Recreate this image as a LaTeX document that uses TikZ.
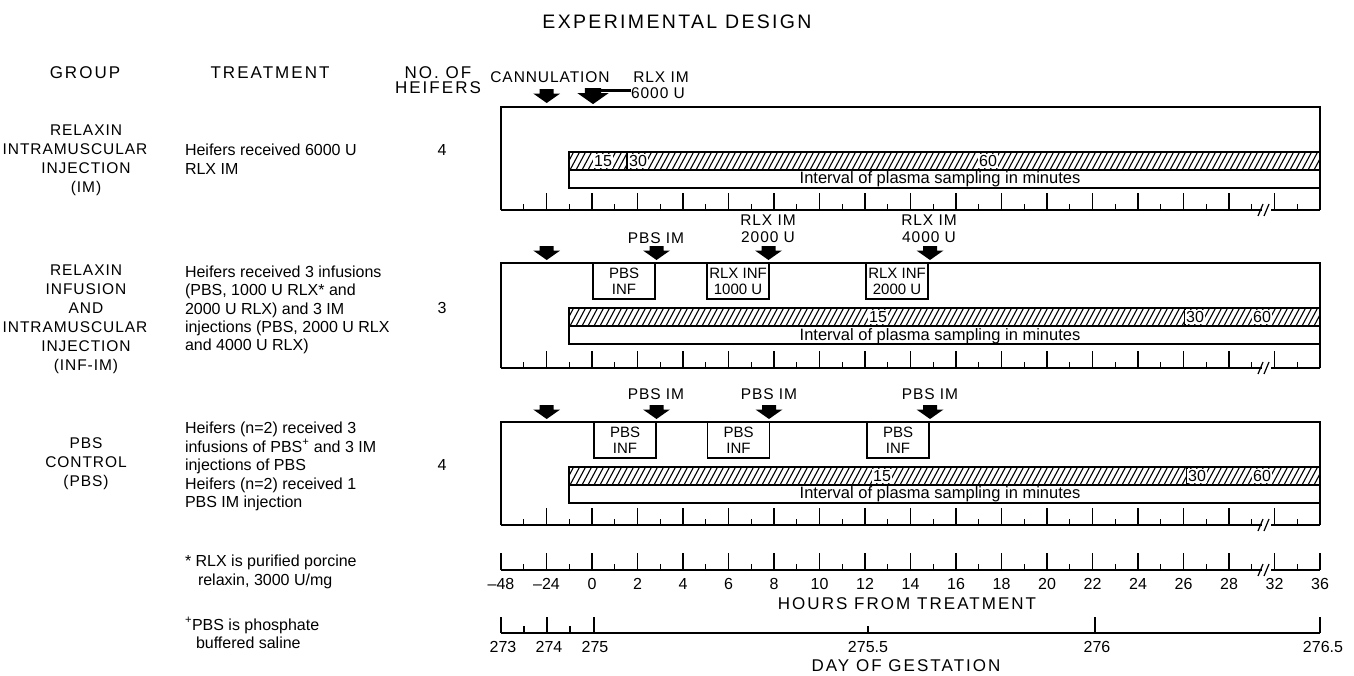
\documentclass[tikz,border=0pt]{standalone}
\usepackage{fontspec}
\setmainfont{Liberation Sans}
\newfontfamily\capfont[LetterSpace=6]{Liberation Sans}
\newfontfamily\headfont[LetterSpace=12]{Liberation Sans}
\newcommand\ftitle{\headfont\fontsize{19.5}{23}\selectfont}
\newcommand\fhead{\headfont\fontsize{17}{15}\selectfont}
\newcommand\fgrp{\capfont\fontsize{15.5}{19}\selectfont}
\newcommand\fbody{\fontsize{16}{18.4}\selectfont}
\newcommand\flab{\capfont\fontsize{15.5}{17}\selectfont}
\newcommand\finf{\fontsize{15}{16}\selectfont}
\newcommand\fnum{\fontsize{16}{18}\selectfont}
\newcommand\fint{\fontsize{16.5}{18}\selectfont}
% panel frame: #1 top y, #2 axis y
\newcommand\mypanel[2]{%
  \draw (501,#2) -- (501,#1) -- (1320,#1) -- (1320,#2);
  \draw (501,#2) -- (1262,#2) (1271,#2) -- (1320,#2);
  \foreach \i in {1,...,17} \draw[tick] (501+45.5*\i,#2) -- ++(0,-17);
  \foreach \i in {0,...,17} \draw[tick] (523.75+45.5*\i,#2) -- ++(0,-6);
  \draw[tick] (1258,#2+6) -- (1263,#2-6) (1264,#2+6) -- (1269,#2-6);
}
% hatched sampling bar + interval box: #1 top y
\newcommand\mybar[1]{%
  \begin{scope}
    \clip (569,#1) rectangle (1320,#1+18);
    \foreach \x in {558,564,...,1320} \draw[hatchline] (\x,#1+18) -- ++(9.6,-18);
  \end{scope}
  \draw (569,#1) rectangle (1320,#1+18);
  \draw (569,#1+18) rectangle (1320,#1+36);
}
\begin{document}
\begin{tikzpicture}[x=1pt,y=-1pt,line width=1.3pt,
  every node/.style={inner sep=0pt,outer sep=0pt},
  grp/.style={font=\fgrp,align=center},
  treat/.style={font=\fbody,align=left,anchor=west},
  head/.style={font=\fhead},
  lab/.style={font=\flab},
  num/.style={font=\fnum},
  hlab/.style={font=\fnum,fill=white,inner xsep=1pt,inner ysep=1.5pt},
  intlab/.style={font=\fint},
  infbox/.style={draw,fill=white,font=\finf,align=center,minimum width=62pt,minimum height=36pt},
  hatchline/.style={line width=1.1pt},
  tick/.style={line width=1.2pt},
  blockarr/.pic={\fill (-7,0) -- (7,0) -- (7,4.5) -- (13.5,4.5) -- (0,14) -- (-13.5,4.5) -- (-7,4.5) -- cycle;}
]
\useasboundingbox (0,0) rectangle (1354,675);

% ---------- headings ----------
\node[font=\ftitle] (title) at (677,22) {EXPERIMENTAL DESIGN};
\node[head] (hgroup) at (85,73) {GROUP};
\node[head] (htreat) at (270,73) {TREATMENT};
\node[head] (hno1) at (438,73) {NO. OF};
\node[head] (hno2) at (438,88) {HEIFERS};

% ---------- left columns ----------
\node[grp] (g1) at (86,160) {RELAXIN\\\hspace*{-22pt}INTRAMUSCULAR\\INJECTION\\(IM)};
\node[grp] (g2) at (86,319) {RELAXIN\\INFUSION\\AND\\\hspace*{-22pt}INTRAMUSCULAR\\INJECTION\\(INF-IM)};
\node[grp] (g3) at (86,464) {PBS\\CONTROL\\(PBS)};

\node[treat] (t1) at (185,159) {Heifers received 6000 U\\RLX IM};
\node[treat] (t2) at (185,310) {Heifers received 3 infusions\\(PBS, 1000 U RLX* and\\2000 U RLX) and 3 IM\\injections (PBS, 2000 U RLX\\and 4000 U RLX)};
\node[treat] (t3) at (185,466.5) {Heifers (n=2) received 3\\infusions of PBS\textsuperscript{+} and 3 IM\\injections of PBS\\Heifers (n=2) received 1\\PBS IM injection};
\node[treat] (fn1) at (185,572) {*\ RLX is purified porcine\\\hspace*{13pt}relaxin, 3000 U/mg};
\node[treat] (fn2) at (185,633) {\textsuperscript{+}PBS is phosphate\\\hspace*{11pt}buffered saline};

\node[num] (n1) at (442,150) {4};
\node[num] (n2) at (442,308) {3};
\node[num] (n3) at (442,465) {4};

% ---------- panel 1 : IM ----------
\mypanel{107}{210}
\mybar{152}
\draw (627,152) -- (627,170);
\node[hlab] (p1a) at (603,161) {15};
\node[hlab] (p1b) at (638,161) {30};
\node[hlab] (p1c) at (988,161) {60};
\node[intlab] (p1i) at (940,179.5) {Interval of plasma sampling in minutes};
\node[lab] (cann) at (550,77) {CANNULATION};
\node[lab] (rlx1) at (661,77) {RLX IM};
\node[lab] (u6000) at (658,93) {6000 U};
\pic at (546.7,89) {blockarr};
\pic[scale=1.15] at (593,88) {blockarr};
\coordinate (rlxarr) at (598,90);
\draw[line width=3pt] (rlxarr) -- (rlxarr -| u6000.west);

% ---------- panel 2 : INF-IM ----------
\mypanel{263}{368}
\mybar{308}
\draw (1185,308) -- (1185,326);
\node[hlab] (p2a) at (878,317) {15};
\node[hlab] (p2b) at (1195,317) {30};
\node[hlab] (p2c) at (1262,317) {60};
\node[intlab] (p2i) at (940,336) {Interval of plasma sampling in minutes};
\node[infbox] (inf21) at (624,281) {PBS\\INF};
\node[infbox] (inf22) at (738,281) {RLX INF\\1000 U};
\node[infbox] (inf23) at (897,281) {RLX INF\\2000 U};
\pic at (546.7,246) {blockarr};
\pic at (656.5,246) {blockarr};
\pic at (768.5,246) {blockarr};
\pic at (930,246) {blockarr};
\node[lab] (l21) at (656,238) {PBS IM};
\node[lab,align=center] (l22) at (768,229) {RLX IM\\2000 U};
\node[lab,align=center] (l23) at (929,229) {RLX IM\\4000 U};

% ---------- panel 3 : PBS ----------
\mypanel{422}{525}
\mybar{467}
\draw (1187,467) -- (1187,485);
\node[hlab] (p3a) at (882,476) {15};
\node[hlab] (p3b) at (1197,476) {30};
\node[hlab] (p3c) at (1262,476) {60};
\node[intlab] (p3i) at (940,494.5) {Interval of plasma sampling in minutes};
\node[infbox] (inf31) at (625,440) {PBS\\INF};
\node[infbox] (inf32) at (738.5,440) {PBS\\INF};
\node[infbox] (inf33) at (898,440) {PBS\\INF};
\pic at (546.7,405) {blockarr};
\pic at (656.5,405) {blockarr};
\pic at (769,405) {blockarr};
\pic at (930,405) {blockarr};
\node[lab] (l31) at (656,394) {PBS IM};
\node[lab] (l32) at (769,394) {PBS IM};
\node[lab] (l33) at (930,394) {PBS IM};

% ---------- hours axis ----------
\draw (501,570) -- (1262,570) (1271,570) -- (1320,570);
\foreach \i in {0,...,18} \draw[tick] (501+45.5*\i,570) -- ++(0,-17);
\foreach \i in {0,...,17} \draw[tick] (523.75+45.5*\i,570) -- ++(0,-6);
\draw[tick] (1258,576) -- (1263,564) (1264,576) -- (1269,564);
\foreach \lab [count=\i from 0] in {\textendash48,\textendash24,0,2,4,6,8,10,12,14,16,18,20,22,24,26,28,32,36}
  \node[num] (hl\i) at (501+45.5*\i,584) {\lab};
\node[font=\fhead] (hours) at (907,604) {HOURS FROM TREATMENT};

% ---------- day axis ----------
\draw (501,633) -- (1320,633);
\foreach \x in {501,547,594,1095,1320} \draw[tick] (\x,633) -- ++(0,-16);
\foreach \x in {524,570,868} \draw[tick] (\x,633) -- ++(0,-7);
\node[num] (d1) at (503,647) {273};
\node[num] (d2) at (549,647) {274};
\node[num] (d3) at (595,647) {275};
\node[num] (d4) at (868,647) {275.5};
\node[num] (d5) at (1097,647) {276};
\node[num] (d6) at (1323,647) {276.5};
\node[font=\fhead] (gest) at (906,666) {DAY OF GESTATION};
\end{tikzpicture}
\end{document}
